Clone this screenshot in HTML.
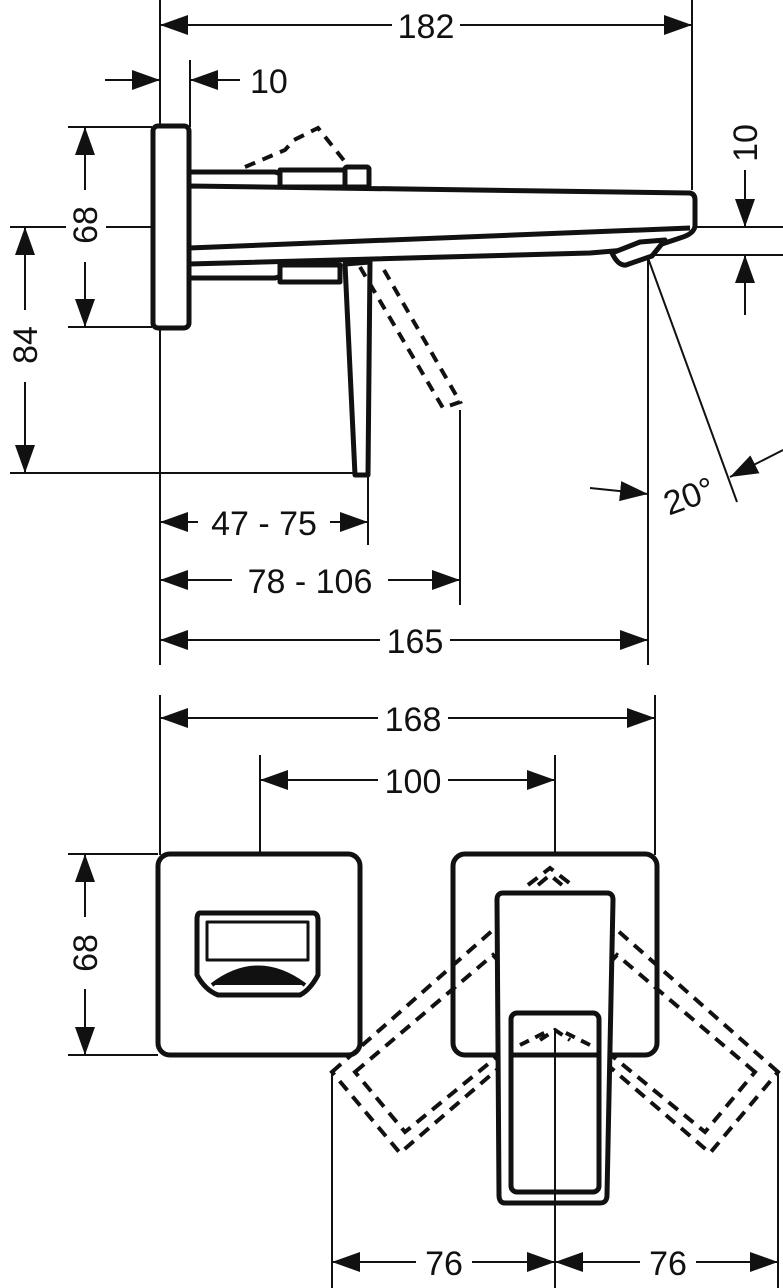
<!DOCTYPE html>
<html><head><style>
html,body{margin:0;padding:0;background:#fff}
svg{display:block}
text{font-family:"Liberation Sans",sans-serif;font-size:34px;fill:#111}
</style></head><body>
<svg width="783" height="1288" viewBox="0 0 783 1288" xmlns="http://www.w3.org/2000/svg">
<defs>
<marker id="a" viewBox="0 0 28 20" refX="28" refY="10" markerWidth="28" markerHeight="20" markerUnits="userSpaceOnUse" orient="auto-start-reverse">
<path d="M0,0 L28,10 L0,20 Z" fill="#111"/></marker>
</defs>
<g stroke="#111" stroke-width="2" fill="none">
<line x1="160" y1="0" x2="160" y2="665"/>
<line x1="692" y1="0" x2="692" y2="190"/>
<line x1="190" y1="60" x2="190" y2="127"/>
<line x1="68" y1="127" x2="152" y2="127"/>
<line x1="68" y1="327" x2="152" y2="327"/>
<line x1="10" y1="227" x2="783" y2="227"/>
<line x1="10" y1="473" x2="368" y2="473"/>
<line x1="650" y1="255" x2="783" y2="255"/>
<line x1="368" y1="475" x2="368" y2="545"/>
<line x1="460" y1="410" x2="460" y2="605"/>
<line x1="648" y1="258" x2="648" y2="665"/>
<line x1="648" y1="258" x2="737" y2="502"/>
<line x1="160" y1="25" x2="692" y2="25" marker-start="url(#a)" marker-end="url(#a)"/>
<line x1="105" y1="80" x2="160" y2="80" marker-end="url(#a)"/>
<line x1="240" y1="80" x2="190" y2="80" marker-end="url(#a)"/>
<line x1="85" y1="127" x2="85" y2="327" marker-start="url(#a)" marker-end="url(#a)"/>
<line x1="25" y1="227" x2="25" y2="473" marker-start="url(#a)" marker-end="url(#a)"/>
<line x1="745" y1="170" x2="745" y2="227" marker-end="url(#a)"/>
<line x1="745" y1="315" x2="745" y2="255" marker-end="url(#a)"/>
<line x1="590" y1="488" x2="648" y2="494" marker-end="url(#a)"/>
<line x1="783" y1="450" x2="730" y2="477" marker-end="url(#a)"/>
<line x1="160" y1="522" x2="368" y2="522" marker-start="url(#a)" marker-end="url(#a)"/>
<line x1="160" y1="580" x2="460" y2="580" marker-start="url(#a)" marker-end="url(#a)"/>
<line x1="160" y1="640" x2="648" y2="640" marker-start="url(#a)" marker-end="url(#a)"/>
<line x1="160" y1="695" x2="160" y2="855"/>
<line x1="655" y1="695" x2="655" y2="855"/>
<line x1="260" y1="755" x2="260" y2="930"/>
<line x1="555" y1="755" x2="555" y2="1288"/>
<line x1="68" y1="854" x2="158" y2="854"/>
<line x1="68" y1="1055" x2="158" y2="1055"/>
<line x1="332" y1="1070" x2="332" y2="1288"/>
<line x1="778" y1="1070" x2="778" y2="1288"/>
<line x1="160" y1="718" x2="655" y2="718" marker-start="url(#a)" marker-end="url(#a)"/>
<line x1="260" y1="780" x2="555" y2="780" marker-start="url(#a)" marker-end="url(#a)"/>
<line x1="85" y1="854" x2="85" y2="1055" marker-start="url(#a)" marker-end="url(#a)"/>
<line x1="332" y1="1262" x2="555" y2="1262" marker-start="url(#a)" marker-end="url(#a)"/>
<line x1="555" y1="1262" x2="778" y2="1262" marker-start="url(#a)" marker-end="url(#a)"/>
</g>
<g stroke="#111" stroke-width="5" fill="#fff" stroke-linejoin="round">
<rect x="153" y="126" width="36" height="202" rx="5"/>
<path d="M190,172 L275,172 Q285,174 290,186"/>
<path d="M190,278 L275,278 Q285,276 290,265"/>
<rect x="280" y="170" width="65" height="17"/>
<rect x="345" y="167" width="24" height="20" rx="2"/>
<rect x="280" y="265" width="60" height="17"/>
<path d="M189,186 L690,193 Q695,194 695,200 L695,226 Q694,234 680,238 L650,248 L590,253 L189,264 Z"/>
<path d="M189,248 L690,228" fill="none"/>
<path d="M612,253 L640,242 L665,240 L652,256 L626,265 Q618,266 612,253 Z"/>
<path d="M345,264 L355,475 L368,475 L370,262 Z"/>
</g>
<g stroke="#111" stroke-width="4" fill="none" stroke-dasharray="11,8">
<path d="M245,167 L285,150 L294,140 L318,128 L350,168"/>
<path d="M360,267 L443,408 L460,402 L380,263"/>
</g>
<g stroke="#111" stroke-width="5" fill="#fff" stroke-linejoin="round">
<rect x="158" y="854" width="202" height="201" rx="12"/>
<rect x="453" y="854" width="204" height="201" rx="12"/>
<path d="M200,913 L313,913 Q318,913 318,920 L318,975 Q310,990 300,995 L218,995 Q205,990 197,975 L197,920 Q197,913 200,913 Z"/>
<path d="M207,922 L308,922 L308,960 L207,960 Z" stroke-width="3" fill="none"/>
<path d="M212,985 Q258,950 305,985" stroke-width="4" fill="#111"/>
</g>
<g stroke="#111" stroke-width="4" fill="none" stroke-dasharray="12,8">
<path d="M332,1072 L493,930 L563,1013 L400,1153 Z"/>
<path d="M355,1072 L493,955 L548,1015 L405,1132 Z"/>
<path d="M778,1072 L617,930 L547,1013 L710,1153 Z"/>
<path d="M755,1072 L617,955 L562,1015 L705,1132 Z"/>
<path d="M538,885 L550,875 L562,885 M528,885 L550,868 L572,885"/>
</g>
<g stroke="#111" stroke-width="5" fill="#fff" stroke-linejoin="round">
<path d="M503,893 L607,893 Q613,893 613,900 L607,1195 Q607,1203 600,1203 L505,1203 Q499,1203 499,1195 L497,900 Q497,893 503,893 Z"/>
<rect x="511" y="1013" width="88" height="179" rx="6"/>
<line x1="511" y1="1055" x2="599" y2="1055"/>
</g>
<g stroke="#111" stroke-width="4" fill="none" stroke-dasharray="10,7">
<path d="M520,1045 L550,1030 M590,1045 L560,1030 M540,1040 L555,1030 L570,1040"/>
</g>
<line x1="555" y1="1030" x2="555" y2="1288" stroke="#111" stroke-width="2"/>
<g fill="#fff">
<rect x="392" y="10" width="68" height="32"/>
<rect x="66" y="190" width="40" height="72"/>
<rect x="8" y="310" width="36" height="72"/>
<rect x="728" y="116" width="36" height="52"/>
<rect x="198" y="505" width="132" height="34"/>
<rect x="232" y="563" width="156" height="34"/>
<rect x="380" y="623" width="70" height="34"/>
<rect x="378" y="701" width="70" height="34"/>
<rect x="378" y="763" width="70" height="34"/>
<rect x="66" y="917" width="40" height="72"/>
<rect x="416" y="1245" width="56" height="34"/>
<rect x="640" y="1245" width="56" height="34"/>
</g>
<text x="426" y="38" text-anchor="middle">182</text>
<text x="250" y="93">10</text>
<text transform="translate(97,225) rotate(-90)" text-anchor="middle">68</text>
<text transform="translate(37,345) rotate(-90)" text-anchor="middle">84</text>
<text transform="translate(757,143) rotate(-90)" text-anchor="middle">10</text>
<text transform="translate(693,507) rotate(-20)" text-anchor="middle">20°</text>
<text x="264" y="535" text-anchor="middle">47 - 75</text>
<text x="310" y="593" text-anchor="middle">78 - 106</text>
<text x="415" y="653" text-anchor="middle">165</text>
<text x="413" y="731" text-anchor="middle">168</text>
<text x="413" y="793" text-anchor="middle">100</text>
<text transform="translate(97,953) rotate(-90)" text-anchor="middle">68</text>
<text x="444" y="1275" text-anchor="middle">76</text>
<text x="668" y="1275" text-anchor="middle">76</text>
</svg>
</body></html>
